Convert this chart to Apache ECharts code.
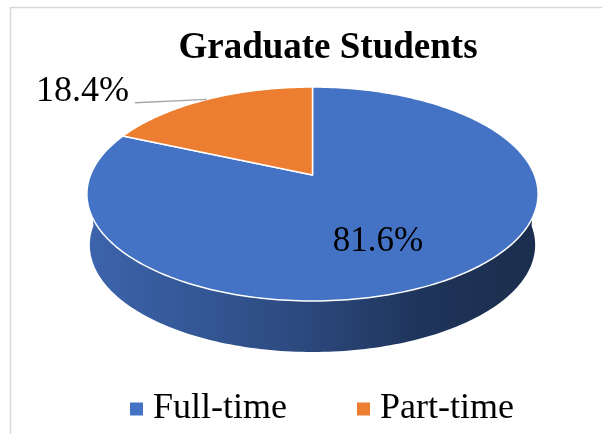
<!DOCTYPE html>
<html>
<head>
<meta charset="utf-8">
<script src="https://cdn.jsdelivr.net/npm/echarts@6/dist/echarts.min.js"></script>
<style>
html, body { margin: 0; padding: 0; background: #fff; }
#chart { width: 602px; height: 434px; }
</style>
</head>
<body>
<div id="chart"></div>
<script>
var categories = ['Full-time', 'Part-time'];
var shares = [81.6, 18.4];
var sliceColors = ['#4472c4', '#ed7d31'];

// geometry of the tilted pie, in pixels
var pie = { cx: 312.5, cy: 175, rx: 222, ry: 103.6, persp: 0.1776, depth: 51, bottomScale: 0.987 };
var serif = 'Liberation Serif';

// point on the disc: angle theta (0 = right, ccw), r 0..1, dy = drop, s = x scale
function project(theta, r, dy, s) {
	var c = Math.cos(theta), sn = Math.sin(theta);
	var d = 1 + pie.persp * r * sn;
	return [pie.cx + s * pie.rx * r * c / d, pie.cy + dy - pie.ry * r * sn / d];
}

function arcPoints(a0, a1, dy, s) {
	var pts = [];
	var n = Math.max(2, Math.ceil(Math.abs(a1 - a0) / 0.02));
	for (var i = 0; i <= n; i++) {
		pts.push(project(a0 + (a1 - a0) * i / n, 1, dy, s));
	}
	return pts;
}

function shade(color, f) {
	var c = echarts.color.parse(color);
	return 'rgb(' + Math.round(c[0] * f) + ',' + Math.round(c[1] * f) + ',' + Math.round(c[2] * f) + ')';
}

function sliceAngles(idx) {
	var total = 0, before = 0;
	for (var i = 0; i < shares.length; i++) {
		total += shares[i];
		if (i < idx) before += shares[i];
	}
	var start = Math.PI / 2 - before / total * 2 * Math.PI;
	var end = start - shares[idx] / total * 2 * Math.PI;
	return [start, end];
}

function renderSlice(params, api) {
	var ang = sliceAngles(params.seriesIndex);
	var a0 = ang[0], a1 = ang[1]; //clockwise, a0 > a1
	var color = api.visual('color');
	var value = api.value(0);
	var children = [];

	// front wall, only where the slice faces us
	var hi = Math.min(a0, 0), lo = Math.max(a1, -Math.PI);
	if (hi > lo) {
		var wall = arcPoints(hi, lo, 0, 1).concat(arcPoints(lo, hi, pie.depth, pie.bottomScale));
		children.push({
			type: 'polygon',
			z2: 1,
			shape: { points: wall },
			style: {
				fill: {
					type: 'linear', global: true,
					x: pie.cx - pie.rx, y: 0, x2: pie.cx + pie.rx, y2: 0,
					colorStops: [
						{ offset: 0, color: shade(color, 0.88) },
						{ offset: 0.45, color: shade(color, 0.66) },
						{ offset: 0.75, color: shade(color, 0.46) },
						{ offset: 1, color: shade(color, 0.4) }
					]
				}
			}
		});
	}

	// top face
	var top = [project(0, 0, 0, 1)].concat(arcPoints(a0, a1, 0, 1));
	children.push({
		type: 'polygon',
		z2: 5,
		shape: { points: top },
		style: { fill: color, stroke: '#fff', lineWidth: 1.5, lineJoin: 'round' }
	});

	// data label
	var mid = (a0 + a1) / 2;
	var txt = value.toFixed(1) + '%';
	if (value < 25) {
		var edge = project(mid, 1, 0, 1);
		var start = [edge[0] - 72, edge[1] + 3.3];
		children.push({
			type: 'polyline', z2: 8,
			shape: { points: [start, edge] },
			style: { stroke: '#a6a6a6', lineWidth: 1.3, fill: null }
		});
		children.push({
			type: 'text', z2: 10,
			style: { text: txt, x: start[0] - 6, y: start[1] - 11, align: 'right', verticalAlign: 'middle',
				fill: '#000', fontFamily: serif, fontSize: 36 }
		});
	} else {
		var p = project(mid, 0.5, pie.depth * 0.4, 1);
		children.push({
			type: 'text', z2: 10,
			style: { text: txt, x: p[0], y: p[1], align: 'center', verticalAlign: 'middle',
				fill: '#000', fontFamily: serif, fontSize: 35 }
		});
	}
	return { type: 'group', children: children };
}

var chartObj = echarts.init(document.getElementById('chart'));
var option = {
	animation: false,
	title: {
		text: 'Graduate Students',
		left: 323,
		top: 25,
		textAlign: 'center',
		textStyle: { fontFamily: serif, fontSize: 37, fontWeight: 'bold', color: '#000' }
	},
	legend: {
		data: categories,
		left: 125,
		top: 386,
		icon: 'rect',
		itemWidth: 13,
		itemHeight: 13,
		itemGap: 70,
		textStyle: { fontFamily: serif, fontSize: 36, color: '#000', padding: [0, 0, 0, 5] }
	},
	graphic: [{
		type: 'rect', silent: true, z: -1,
		shape: { x: 10.5, y: 7.5, width: 700, height: 500 },
		style: { fill: null, stroke: '#d9d9d9', lineWidth: 1.5 }
	}],
	series: categories.map(function(name, i) {
		return {
			type: 'custom',
			name: name,
			coordinateSystem: 'none',
			silent: true,
			itemStyle: { color: sliceColors[i] },
			data: [shares[i]],
			renderItem: renderSlice
		};
	})
};
chartObj.setOption(option);
</script>
</body>
</html>
